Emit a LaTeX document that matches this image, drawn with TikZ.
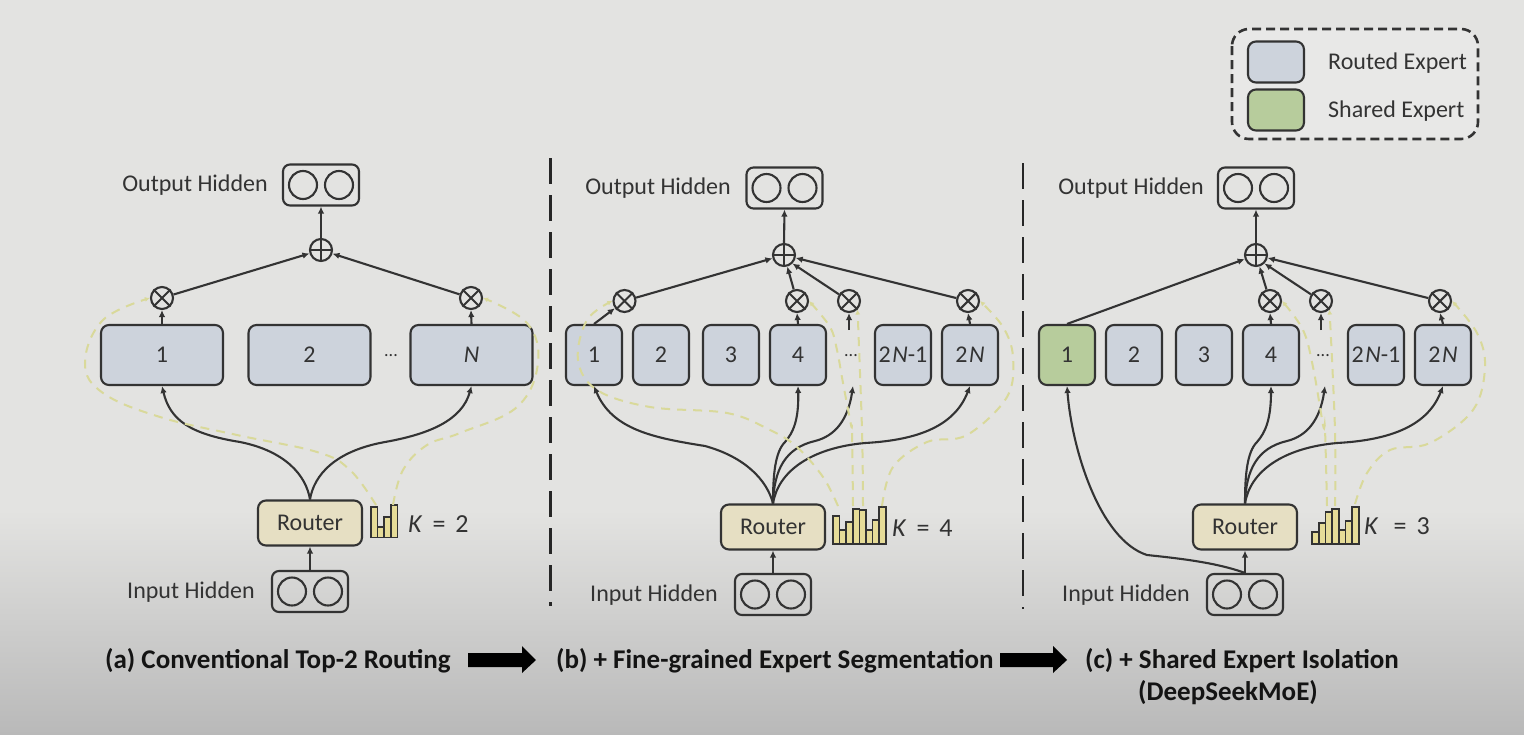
\documentclass[tikz,border=0pt]{standalone}
\usepackage{fontspec}
\setmainfont{Carlito}
\usetikzlibrary{arrows.meta,calc}
\definecolor{bgtop}{HTML}{E3E3E1}
\definecolor{bgbot}{HTML}{B9B9B9}
\definecolor{legbg}{HTML}{E8E8E7}
\definecolor{ink}{HTML}{333333}
\definecolor{routed}{HTML}{CDD3DC}
\definecolor{shared}{HTML}{B7CC9C}
\definecolor{routerc}{HTML}{E6DFC3}
\definecolor{barc}{HTML}{E6DC98}
\definecolor{dashy}{HTML}{D9D99A}
\tikzset{
  x=1pt,y=-1pt,
  lw/.style={line width=2.1pt,draw=ink},
  box/.style={lw,rounded corners=8pt,fill=routed,minimum height=60pt,inner sep=0pt,text=ink,font=\fontsize{24}{26}\selectfont},
  wide/.style={box,minimum width=122pt},
  narrow/.style={box,minimum width=56pt},
  sharedbox/.style={narrow,fill=shared},
  routerbox/.style={lw,rounded corners=8pt,fill=routerc,minimum width=104pt,minimum height=45pt,inner sep=0pt,text=ink,font=\fontsize{24}{26}\selectfont},
  hidbox/.style={lw,rounded corners=7pt,minimum width=76pt,minimum height=41pt,inner sep=0pt},
  hidc/.style={lw,circle,minimum size=28pt,inner sep=0pt},
  opn/.style={lw,circle,minimum size=22pt,inner sep=0pt},
  lab/.style={text=ink,inner sep=0pt,font=\fontsize{24}{26}\selectfont},
  captxt/.style={text=black!92,inner sep=0pt,font=\fontsize{27}{30}\selectfont\bfseries},
  ktext/.style={text=ink,inner sep=0pt,font=\fontsize{26}{28}\selectfont},
  dotstext/.style={text=ink,inner sep=0pt,font=\fontsize{18}{20}\selectfont},
  conn/.style={lw,-{Latex[length=7pt,width=6.5pt]}},
  feed/.style={draw=dashy,line width=2pt,dash pattern=on 9pt off 7pt,-{Latex[length=5pt,width=5pt]}},
  divider/.style={draw=black!85,line width=2.6pt,dash pattern=on 26pt off 11pt},
  barst/.style={draw=ink,line width=1.6pt,fill=barc},
}
\newcommand{\hid}[3]{%
  \node[hidbox] (#1) at (#2,#3) {};
  \node[hidc] (#1l) at (#2-18,#3) {};
  \node[hidc] (#1r) at (#2+18,#3) {};
}
\newcommand{\oplusn}[3]{%
  \node[opn] (#1) at (#2,#3) {};
  \draw[lw] (#1.north)--(#1.south) (#1.west)--(#1.east);
}
\newcommand{\otimesn}[3]{%
  \node[opn] (#1) at (#2,#3) {};
  \draw[lw] (#1.north west)--(#1.south east) (#1.north east)--(#1.south west);
}
\newcommand{\barsat}[4]{% x-left, width, bottom, list
  \foreach \t [count=\i from 0] in {#4} {
    \draw[barst] ({#1+\i*#2},\t) rectangle ({#1+\i*#2+#2},#3);
  }
}
\newcommand{\twoN}{2\hspace{1.5pt}\textit{N}}
\newcommand{\kgap}{\hspace{10pt}}
\begin{document}
\begin{tikzpicture}
\useasboundingbox (0,0) rectangle (1524,734);
\fill[bgtop] (0,0) rectangle (1524,511);
\shade[top color=bgtop,bottom color=bgbot] (0,510) rectangle (1524,734);

% legend
\draw[draw=black!80,line width=2.6pt,dash pattern=on 9pt off 5pt,fill=legbg,rounded corners=17pt] (1232,29) rectangle (1478,139);
\node[box,minimum width=56pt,minimum height=41pt] (legR) at (1276,62) {};
\node[box,fill=shared,minimum width=56pt,minimum height=41pt] (legS) at (1276,110) {};
\node[lab,anchor=west] (legRt) at (1328,63) {Routed Expert};
\node[lab,anchor=west] (legSt) at (1328,111) {Shared Expert};

% dividers
\draw[divider] (550.5,158) -- (550.5,606);
\draw[divider] (1023,163) -- (1023,609);

%% ---------- panel a ----------
\hid{oa}{321}{185}
\hid{ia}{310}{591.5}
\oplusn{pa}{321}{250}
\otimesn{xa}{162}{298}
\otimesn{xb}{471}{298}
\node[wide] (a1) at (162,355) {1};
\node[wide] (a2) at (309.5,355) {2};
\node[wide] (aN) at (471.5,355) {\textit{N}};
\node[dotstext] (ad) at (391,356) {...};
\node[routerbox] (ra) at (310,523) {Router};
\node[lab,anchor=east] (oat) at (268,185) {Output Hidden};
\node[lab,anchor=east] (iat) at (255,592) {Input Hidden};
\node[ktext,anchor=west] (ka) at (408,524) {\textit{K}\kgap=\kgap2};
\barsat{371}{6.6}{537.5}{507,527,517,505}
\draw[conn] (ia.north) -- (ra.south);
\draw[conn] (pa.north) -- (oa.south);
\draw[conn] (a1.north) -- (xa.south);
\draw[conn] (aN.north) -- (xb.south);
\draw[conn] (xa) -- (pa);
\draw[conn] (xb) -- (pa);
\draw[conn] (ra.north) .. controls (306,475) and (285,451) .. (240,442) .. controls (190,434) and (170,420) .. (a1.south);
\draw[conn] (ra.north) .. controls (314,475) and (335,451) .. (385,442) .. controls (430,434) and (462,420) .. (aN.south);
\coordinate (sa1) at (376,505);
\coordinate (sa2) at (393,505);
\draw[feed] plot[smooth,tension=0.65] coordinates {(sa1) (350,470) (317,452) (237,435) (160,417) (103,393) (85,363) (103,320) (xa.west)};
\draw[feed] plot[smooth,tension=0.65] coordinates {(sa2) (403,470) (427,445) (460,433) (517,407) (538,363) (527,323) (xb.east)};

%% ---------- panel b ----------
\hid{ob}{784.5}{188}
\hid{ib}{773}{594.5}
\oplusn{pb}{784}{255}
\otimesn{b1x}{624.5}{301}
\otimesn{b4x}{797}{301}
\otimesn{bdx}{849}{301}
\otimesn{bNx}{968}{301}
\node[narrow] (b1) at (594,355) {1};
\node[narrow] (b2) at (661,355) {2};
\node[narrow] (b3) at (731,355) {3};
\node[narrow] (b4) at (798,355) {4};
\node[narrow] (bM) at (903,355) {\twoN-1};
\node[narrow] (bN) at (970,355) {\twoN};
\node[dotstext] (bd) at (851,356) {...};
\node[routerbox] (rb) at (773,527) {Router};
\node[lab,anchor=east] (obt) at (731,188) {Output Hidden};
\node[lab,anchor=east] (ibt) at (718,595) {Input Hidden};
\node[ktext,anchor=west] (kb) at (892,528) {\textit{K}\kgap=\kgap4};
\barsat{833}{6.6}{544}{516,530,522,509,510,530,520,507}
\coordinate (bdu) at (849,330);
\coordinate (bdd) at (853,386);
\draw[conn] (ib.north) -- (rb.south);
\draw[conn] (pb.north) -- (ob.south);
\draw[conn] (b1.north) -- (b1x);
\draw[conn] (b4.north) -- (b4x.south);
\draw[conn] (bN.north) -- (bNx.south);
\draw[conn] (bdu) -- (bdx.south);
\draw[conn] (b1x) -- (pb);
\draw[conn] (b4x) -- (pb);
\draw[conn] (bdx) -- (pb.south east);
\draw[conn] (bNx) -- (pb);
\draw[conn] (rb.north) .. controls (767,480) and (745,457) .. (705,446) .. controls (655,438) and (612,430) .. (b1.south);
\draw[conn] (rb.north) .. controls (773,475) and (775,452) .. (785,442) .. controls (793,433) and (799,420) .. (b4.south);
\draw[conn] (rb.north) .. controls (774,470) and (785,448) .. (815,441) .. controls (835,436) and (848,420) .. (bdd);
\draw[conn] (rb.north) .. controls (778,472) and (810,448) .. (865,443) .. controls (920,440) and (955,425) .. (bN.south);
\coordinate (sb1) at (838,506);
\coordinate (sb2) at (853,506);
\coordinate (sb3) at (863,506);
\coordinate (sb4) at (882,506);
\draw[feed] plot[smooth,tension=0.6] coordinates {(sb1) (823,477) (797,447) (770,430) (727,413) (650,407) (597,390) (578,360) (587,320) (b1x.west)};
\draw[feed] plot[smooth,tension=0.6] coordinates {(sb2) (852,430) (851,425) (843,383) (837,350) (830,327) (b4x.east)};
\draw[feed] plot[smooth,tension=0.6] coordinates {(sb3) (862,430) (bdx.south east)};
\draw[feed] plot[smooth,tension=0.6] coordinates {(sb4) (893,467) (927,442) (967,435) (1007,397) (1013,357) (1003,327) (bNx.east)};

%% ---------- panel c ----------
\hid{oc}{1256}{188}
\hid{ic}{1245}{594.5}
\oplusn{pc}{1256}{255}
\otimesn{c4x}{1270}{301}
\otimesn{cdx}{1321}{301}
\otimesn{cNx}{1440}{301}
\node[sharedbox] (c1) at (1067,355) {1};
\node[narrow] (c2) at (1134,355) {2};
\node[narrow] (c3) at (1204,355) {3};
\node[narrow] (c4) at (1271,355) {4};
\node[narrow] (cM) at (1376,355) {\twoN-1};
\node[narrow] (cN) at (1443,355) {\twoN};
\node[dotstext] (cd) at (1323,356) {...};
\node[routerbox] (rc) at (1245,527) {Router};
\node[lab,anchor=east] (oct) at (1204,188) {Output Hidden};
\node[lab,anchor=east] (ict) at (1190,595) {Input Hidden};
\node[ktext,anchor=west] (kc) at (1364,526) {\textit{K}\kgap\hspace{5pt}=\kgap3};
\barsat{1312}{6.7}{544}{532,523,512,509,530,521,507}
\coordinate (cdu) at (1321,330);
\coordinate (cdd) at (1325,386);
\draw[conn] (ic.north) -- (rc.south);
\draw[conn] (pc.north) -- (oc.south);
\draw[conn] (c4.north) -- (c4x.south);
\draw[conn] (cN.north) -- (cNx.south);
\draw[conn] (cdu) -- (cdx.south);
\draw[conn] (c1.north) -- (pc);
\draw[conn] (c4x) -- (pc);
\draw[conn] (cdx) -- (pc.south east);
\draw[conn] (cNx) -- (pc);
\draw[conn] (ic.north) .. controls (1215,562) and (1175,558) .. (1147,555) .. controls (1100,540) and (1072,450) .. (c1.south);
\draw[conn] (rc.north) .. controls (1245,475) and (1247,452) .. (1257,442) .. controls (1265,433) and (1271,420) .. (c4.south);
\draw[conn] (rc.north) .. controls (1246,470) and (1257,448) .. (1287,441) .. controls (1307,436) and (1320,420) .. (cdd);
\draw[conn] (rc.north) .. controls (1250,472) and (1282,448) .. (1337,443) .. controls (1392,440) and (1428,425) .. (cN.south);
\coordinate (sc2) at (1327,506);
\coordinate (sc3) at (1335,506);
\coordinate (sc4) at (1355,504);
\draw[feed] plot[smooth,tension=0.6] coordinates {(sc2) (1325,430) (1323,425) (1313,367) (1303,330) (c4x.east)};
\draw[feed] plot[smooth,tension=0.6] coordinates {(sc3) (1335,430) (cdx.south east)};
\draw[feed] plot[smooth,tension=0.6] coordinates {(sc4) (1367,473) (1390,450) (1430,443) (1473,410) (1485,367) (1477,333) (cNx.east)};

%% ---------- captions ----------
\node[captxt,anchor=west] (cpa) at (105,661) {(a) Conventional Top-2 Routing};
\node[captxt,anchor=west] (cpb) at (556,661) {(b) + Fine-grained Expert Segmentation};
\node[captxt,anchor=west] (cpc) at (1085,661) {(c) + Shared Expert Isolation};
\node[captxt] (cpd) at (1228,693) {(DeepSeekMoE)};
\fill[black] (468,653) -- (522,653) -- (522,646) -- (536,660) -- (522,673) -- (522,667) -- (468,667) -- cycle;
\fill[black] (1000,653) -- (1053,653) -- (1053,646) -- (1067,660) -- (1053,673) -- (1053,667) -- (1000,667) -- cycle;
\end{tikzpicture}
\end{document}
